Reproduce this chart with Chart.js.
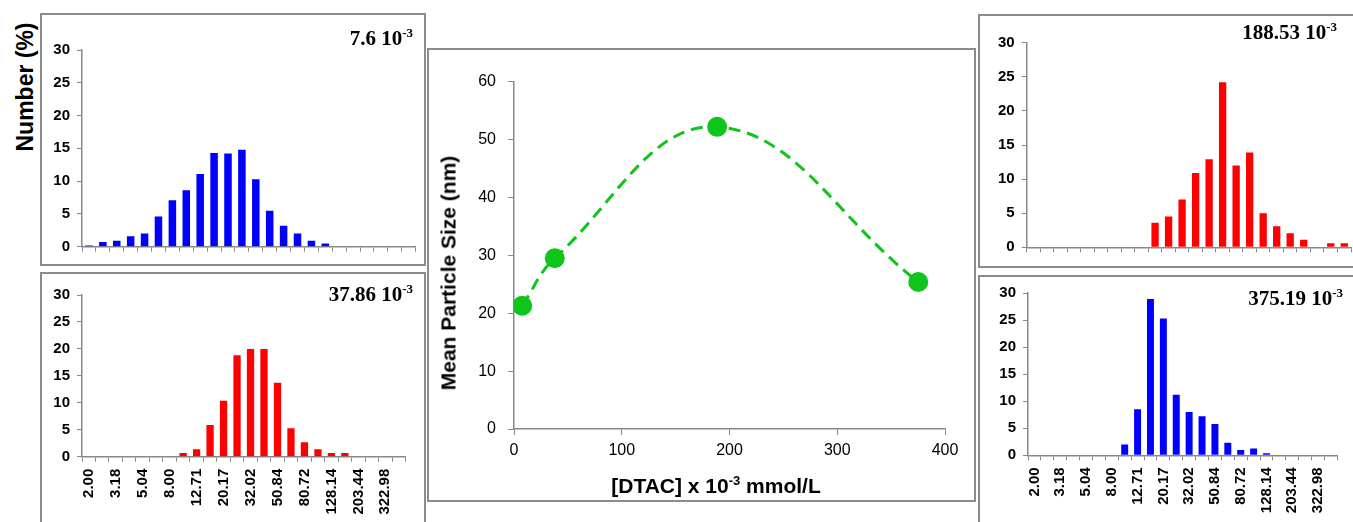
<!DOCTYPE html>
<html>
<head>
<meta charset="utf-8">
<script src="https://cdn.jsdelivr.net/npm/chart.js@4.4.0/dist/chart.umd.min.js"></script>
<style>
  html, body { margin: 0; padding: 0; background: #fff; overflow: hidden; }
  #wrap { position: relative; width: 1353px; height: 522px; overflow: hidden; }
  .panel { position: absolute; border: 2px solid #8c8c8c; box-sizing: border-box; }
  canvas { position: absolute; }
  .tag { position: absolute; font: bold 21px "Liberation Serif", "Times New Roman", serif; line-height: 21px; white-space: nowrap; color: #000; }
  .tag .sup { font-size: 13px; position: relative; top: -8px; }
  .vlab { position: absolute; font-family: "Liberation Sans", Arial, sans-serif; font-weight: bold; white-space: nowrap; line-height: 1; color: #000;
          transform: translate(-50%, -50%) rotate(-90deg); }
  .xlab { position: absolute; font: bold 21px "Liberation Sans", Arial, sans-serif; line-height: 21px; white-space: nowrap; color: #000;
          transform: translateX(-50%); }
  .xlab .sup { font-size: 13px; position: relative; top: -8px; }
</style>
</head>
<body>
<div id="wrap">
  <div class="panel" style="left:40px;top:13px;width:386px;height:253px"></div>
  <div class="panel" style="left:40px;top:272px;width:386px;height:260px"></div>
  <div class="panel" style="left:427px;top:48px;width:549px;height:454px"></div>
  <div class="panel" style="left:978px;top:14px;width:400px;height:254px"></div>
  <div class="panel" style="left:978px;top:275px;width:400px;height:260px"></div>

  <canvas id="h1" width="382" height="249" style="left:42px;top:15px"></canvas>
  <canvas id="h2" width="382" height="248" style="left:42px;top:274px"></canvas>
  <canvas id="mean" width="545" height="450" style="left:429px;top:50px"></canvas>
  <canvas id="h3" width="373" height="250" style="left:980px;top:16px"></canvas>
  <canvas id="h4" width="376" height="245" style="left:980px;top:277px"></canvas>

  <div class="vlab" style="left:25px;top:87px;font-size:23px">Number (%)</div>
  <div class="vlab" style="left:448px;top:273px;font-size:21px">Mean Particle Size (nm)</div>
  <div class="xlab" style="left:716px;top:475px">[DTAC] x 10<span class="sup">-3</span> mmol/L</div>

  <div class="tag" style="right:940px;top:28px">7.6 10<span class="sup">-3</span></div>
  <div class="tag" style="right:940px;top:284px">37.86 10<span class="sup">-3</span></div>
  <div class="tag" style="right:16px;top:22px">188.53 10<span class="sup">-3</span></div>
  <div class="tag" style="right:10px;top:288px">375.19 10<span class="sup">-3</span></div>
</div>
<script>
// size classes (nm), only every other one is labelled on the axis
const sizeLabels = ["2.00", "2.52", "3.18", "4.00", "5.04", "6.35", "8.00", "10.08",
  "12.71", "16.01", "20.17", "25.42", "32.02", "40.34", "50.84", "64.05",
  "80.72", "101.70", "128.14", "161.44", "203.44", "256.32", "322.98", "406.91"];

// number distributions (%) for each DTAC concentration
const dist7_6 = [0.2, 0.7, 0.9, 1.6, 2.0, 4.6, 7.1, 8.6, 11.1, 14.3, 14.2, 14.8,
  10.3, 5.5, 3.2, 2.0, 0.9, 0.5, 0, 0, 0, 0, 0, 0];
const dist37_86 = [0, 0, 0, 0, 0, 0, 0, 0.7, 1.4, 5.9, 10.4, 18.8,
  20.0, 20.0, 13.7, 5.3, 2.7, 1.4, 0.7, 0.7, 0, 0, 0, 0];
const dist188_53 = [0, 0, 0, 0, 0, 0, 0, 0, 0, 3.6, 4.5, 7.0,
  10.9, 12.9, 24.2, 12.0, 13.9, 5.0, 3.1, 2.05, 1.1, 0, 0.6, 0.6];
const dist375_19 = [0, 0, 0, 0, 0, 0, 0, 2.0, 8.5, 28.9, 25.3, 11.2,
  8.0, 7.2, 5.8, 2.3, 1.0, 1.25, 0.4, 0, 0, 0, 0, 0];

const numberTicks = [0, 5, 10, 15, 20, 25, 30];

// mean particle size vs concentration
const dtac = [7.6, 37.86, 188.53, 375.19];
const meanSize = [21.3, 29.5, 52.2, 25.4];

const axisGray = "#888888";
const green = "#0fc41a";

function makeHistogram(id, values, color, showLabels, box) {
  return new Chart(document.getElementById(id), {
    type: "bar",
    data: {
      labels: sizeLabels,
      datasets: [{
        data: values,
        backgroundColor: color,
        barPercentage: 0.54,
        categoryPercentage: 1.0
      }]
    },
    options: {
      responsive: false,
      animation: false,
      layout: { padding: { top: box.top, right: box.right, left: 0, bottom: 0 } },
      plugins: { legend: { display: false }, tooltip: { enabled: false } },
      scales: {
        x: {
          offset: true,
          grid: { drawOnChartArea: false, tickLength: 5, color: axisGray, offset: true },
          border: { color: axisGray, width: 1.5 },
          ticks: {
            display: showLabels,
            autoSkip: false,
            minRotation: 90,
            maxRotation: 90,
            padding: 7,
            color: "#000",
            font: { family: "Liberation Sans", weight: "bold", size: 15 },
            callback: (v, i) => (i % 2 === 0 ? sizeLabels[i] : "")
          },
          afterFit: s => { s.height = box.xh; }
        },
        y: {
          min: numberTicks[0],
          max: numberTicks[numberTicks.length - 1],
          grid: { drawOnChartArea: false, tickLength: 5, color: axisGray },
          border: { color: axisGray, width: 1.5 },
          ticks: {
            stepSize: 5,
            padding: 7,
            color: "#000",
            font: { family: "Liberation Sans", weight: "bold", size: 15 }
          },
          afterFit: s => { s.width = box.yw; }
        }
      }
    }
  });
}

makeHistogram("h1", dist7_6, "#0000ff", false, { top: 35, right: 8.3, yw: 40, xh: 17.3 });
makeHistogram("h2", dist37_86, "#ff0000", true, { top: 21, right: 8.3, yw: 40, xh: 65.3 });
makeHistogram("h3", dist188_53, "#ff0000", false, { top: 26.7, right: 2, yw: 46.7, xh: 18.7 });
makeHistogram("h4", dist375_19, "#0000ff", true, { top: 10.3, right: 2.4, yw: 48, xh: 66.7 });

new Chart(document.getElementById("mean"), {
  type: "scatter",
  data: {
    datasets: [{
      data: dtac.map((x, i) => ({ x: x, y: meanSize[i] })),
      showLine: true,
      borderColor: green,
      borderWidth: 3,
      borderDash: [12, 7],
      tension: 0.4,
      pointRadius: 10,
      pointBackgroundColor: green,
      pointBorderWidth: 0
    }]
  },
  options: {
    responsive: false,
    animation: false,
    layout: { padding: { top: 31.7, right: 29, left: 0, bottom: 0 } },
    plugins: { legend: { display: false }, tooltip: { enabled: false } },
    scales: {
      x: {
        type: "linear",
        min: 0,
        max: 400,
        grid: { drawOnChartArea: false, tickLength: 6, color: axisGray },
        border: { color: axisGray, width: 1.5 },
        ticks: { stepSize: 100, padding: 6, color: "#000", font: { family: "Liberation Sans", size: 16 } },
        afterFit: s => { s.height = 71; }
      },
      y: {
        min: 0,
        max: 60,
        grid: { drawOnChartArea: false, tickLength: 6, color: axisGray },
        border: { color: axisGray, width: 1.5 },
        ticks: { stepSize: 10, padding: 12, color: "#000", font: { family: "Liberation Sans", size: 16 } },
        afterFit: s => { s.width = 85; }
      }
    }
  }
});
</script>
</body>
</html>
